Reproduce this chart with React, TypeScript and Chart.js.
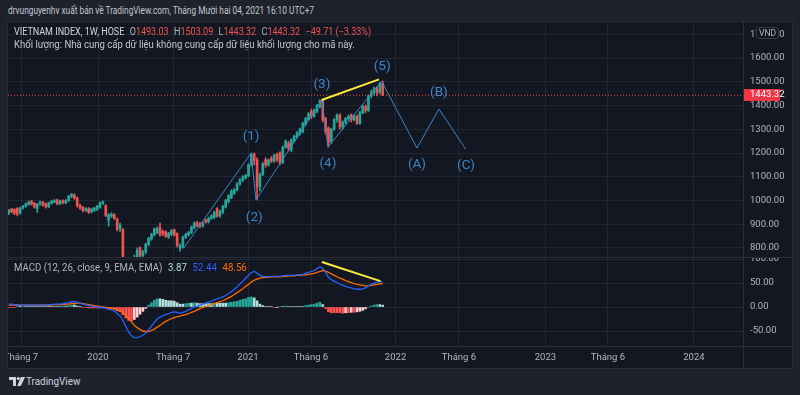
import React, { useEffect, useRef } from 'react';
import { Chart, registerables } from 'chart.js';

Chart.register(...registerables);

// ---- Weekly candles (index 0 = week of 27 May 2019 ... 131 = week of 29 Nov 2021)
const opens = [
  948, 964, 962, 966, 946, 968, 976, 983, 997, 988,
  966, 984, 992, 986, 974, 988, 993, 1002, 986, 999,
  990, 1000, 1016, 1023, 1012, 980, 970, 958, 966, 952,
  958, 962, 972, 988, 978, 918, 935, 940, 922, 880,
  878, 745, 712, 670, 700, 760, 800, 768, 785, 815,
  838, 855, 865, 885, 870, 868, 845, 858, 876, 860,
  800, 804, 845, 855, 865, 885, 905, 902, 893, 918,
  910, 925, 928, 966, 935, 950, 972, 995, 1012, 1030,
  1044, 1070, 1086, 1095, 1105, 1150, 1195, 1170, 1060, 1110,
  1172, 1150, 1178, 1168, 1195, 1200, 1160, 1225, 1240, 1215,
  1250, 1268, 1280, 1290, 1320, 1340, 1375, 1355, 1375, 1395,
  1420, 1345, 1305, 1250, 1300, 1340, 1360, 1310, 1330, 1345,
  1360, 1340, 1355, 1325, 1370, 1395, 1380, 1440, 1455, 1470,
  1455, 1493.03,
];
const highs = [
  963, 968, 966, 970, 972, 980, 990, 998, 1000, 992,
  988, 998, 996, 990, 993, 1000, 1004, 1006, 1002, 1003,
  1004, 1022, 1030, 1028, 1015, 985, 975, 970, 970, 968,
  972, 980, 994, 998, 982, 945, 948, 945, 926, 905,
  882, 755, 725, 700, 770, 800, 805, 790, 820, 845,
  862, 884, 888, 905, 875, 872, 866, 878, 880, 864,
  818, 850, 862, 870, 892, 910, 912, 908, 910, 922,
  930, 940, 955, 970, 960, 980, 1005, 1025, 1045, 1050,
  1075, 1092, 1105, 1110, 1155, 1200, 1200, 1180, 1115, 1160,
  1180, 1175, 1185, 1195, 1200, 1205, 1230, 1255, 1250, 1260,
  1275, 1290, 1305, 1330, 1350, 1370, 1385, 1385, 1405, 1425,
  1425, 1350, 1310, 1305, 1345, 1365, 1365, 1335, 1350, 1360,
  1365, 1360, 1360, 1375, 1400, 1402, 1445, 1465, 1478, 1480,
  1498, 1503.09,
];
const lows = [
  940, 948, 940, 935, 942, 964, 972, 980, 980, 968,
  950, 980, 976, 968, 970, 984, 990, 982, 982, 987,
  986, 996, 1012, 1005, 972, 962, 952, 954, 945, 948,
  954, 958, 968, 984, 932, 893, 928, 920, 872, 870,
  742, 700, 660, 650, 690, 750, 760, 758, 775, 810,
  832, 850, 860, 850, 852, 845, 840, 852, 850, 805,
  787, 800, 840, 850, 860, 880, 890, 886, 888, 905,
  905, 920, 924, 930, 930, 945, 968, 990, 1008, 1025,
  1040, 1065, 1080, 1090, 1100, 1145, 1150, 1002, 1040, 1105,
  1140, 1145, 1160, 1160, 1165, 1150, 1155, 1220, 1210, 1205,
  1245, 1262, 1275, 1285, 1315, 1335, 1345, 1350, 1370, 1390,
  1330, 1280, 1225, 1240, 1295, 1330, 1300, 1300, 1322, 1338,
  1330, 1335, 1320, 1320, 1365, 1370, 1375, 1432, 1445, 1440,
  1450, 1443.32,
];
const closes = [
  960, 952, 946, 946, 968, 976, 987, 994, 985, 973,
  985, 994, 980, 974, 990, 996, 1000, 986, 998, 991,
  1000, 1018, 1026, 1010, 978, 968, 958, 966, 950, 964,
  968, 976, 990, 994, 938, 940, 942, 925, 880, 897,
  748, 712, 670, 690, 760, 790, 768, 785, 815, 840,
  857, 880, 882, 855, 862, 850, 862, 874, 855, 812,
  812, 845, 858, 866, 888, 905, 895, 893, 905, 910,
  925, 935, 950, 935, 955, 975, 1000, 1020, 1040, 1045,
  1070, 1088, 1100, 1105, 1150, 1192, 1170, 1057, 1110, 1155,
  1150, 1170, 1165, 1190, 1175, 1160, 1225, 1250, 1220, 1255,
  1270, 1285, 1300, 1325, 1345, 1365, 1355, 1380, 1400, 1420,
  1340, 1290, 1245, 1300, 1340, 1360, 1310, 1330, 1345, 1355,
  1340, 1355, 1325, 1370, 1395, 1380, 1440, 1455, 1470, 1455,
  1493.03, 1443.32,
];

// ---- MACD (12, 26, close, 9)
const macdLine = [
  6, 6, 5, 5, 4, 4, 4, 4, 4, 4,
  4, 4, 4, 4, 5, 5, 6, 6, 6, 7,
  8, 9, 11, 11, 10, 8, 6, 5, 3, 2,
  1, 0, -1, -1, -3, -5, -6, -8, -14, -18,
  -28, -40, -52, -60, -64, -64, -62, -59, -54, -47,
  -40, -32, -25, -21, -18, -16, -14, -11, -10, -11,
  -13, -11, -9, -6, -3, 0, 2, 4, 6, 8,
  10, 12, 15, 17, 19, 21, 24, 28, 32, 37,
  42, 48, 54, 60, 66, 72, 74, 71, 66, 64,
  63, 63, 64, 64, 64, 64, 65, 66, 66, 66,
  66, 67, 67, 68, 70, 72, 74, 76, 80, 84,
  81, 72, 62, 57, 54, 51, 48, 45, 43, 41,
  40, 38, 37, 37, 38, 40, 44, 47, 50, 52,
  53, 52.44,
];
const signalLine = [
  4, 4, 4, 4, 4, 4, 4, 4, 4, 4,
  4, 4, 4, 4, 4, 4, 5, 5, 5, 5,
  6, 6, 7, 7, 8, 8, 7, 6, 5, 4,
  3, 2, 1, 0, -1, -2, -3, -4, -6, -8,
  -12, -17, -24, -31, -38, -43, -47, -50, -51, -51,
  -49, -46, -42, -38, -34, -30, -27, -24, -22, -20,
  -19, -17, -16, -14, -11, -9, -6, -3, -1, 1,
  3, 5, 7, 9, 11, 13, 16, 19, 22, 26,
  30, 34, 38, 43, 47, 52, 56, 58, 60, 61,
  62, 62, 63, 63, 63, 63, 64, 64, 65, 65,
  65, 66, 66, 67, 67, 68, 69, 70, 72, 74,
  76, 75, 72, 69, 66, 63, 60, 58, 55, 53,
  51, 49, 47, 46, 45, 44, 44, 45, 46, 47,
  48, 48.56,
];
const histogram = [
  -1, -1, -1, 1, 0.5, 1, 1, 1, 1, 1,
  1, 1, 1, 1, 1, 1, 1, 1, 1, 2,
  2, 3, 4, 4, 2, 0.5, -1, -1, -2, -2,
  -2, -2, -2, -2, -2, -3, -3, -4, -8, -10,
  -16, -23, -28, -29, -26, -21, -15, -9, -3, 4,
  9, 14, 17, 17, 16, 14, 13, 13, 12, 9,
  6, 6, 7, 8, 8, 9, 8, 7, 7, 7,
  7, 7, 8, 8, 8, 8, 8, 9, 10, 11,
  12, 14, 16, 17, 20, 21, 19, 13, 6, 3,
  1, 1, 1, -1, -0.5, 1, 1, 2, 1, 1,
  1, 1, 1, 1, 3, 4, 5, 6, 8, 10,
  5, -3, -10, -12, -12, -12, -12, -13, -12, -12,
  -11, -11, -10, -9, -7, -4, 0, 2, 4, 5,
  5, 3.87,
];

// ---- Axis ticks (x in candle-index units)
const xTickPositions = [4.31, 31.28, 57.57, 83.82, 105.9, 135.5, 157.7, 188.0, 209.9, 240.0];
const xTickLabels = ['Tháng 7', '2020', 'Tháng 7', '2021', 'Tháng 6', '2022', 'Tháng 6', '2023', 'Tháng 6', '2024'];
const priceTicks = [800, 900, 1000, 1100, 1200, 1300, 1400, 1500, 1600, 1700];
const macdTicks = [-50, 0, 50, 100];

// ---- Drawings (Elliott waves and trend lines)
const waveX = [61.2, 84.9, 86.6, 109.7, 111.8, 130.6, 143.0, 150.7, 160.0];
const waveY = [798, 1200, 1002, 1423, 1225, 1503, 1221, 1385, 1217];
const waveLabelText = ['(1)', '(2)', '(3)', '(4)', '(5)', '(A)', '(B)', '(C)'];
const waveLabelX = [84.9, 86.0, 109.7, 111.8, 130.8, 143.0, 150.7, 160.2];
const waveLabelY = [1267, 926, 1486, 1154, 1562, 1149, 1453, 1145];
const trendPriceX = [109.6, 129.7];
const trendPriceY = [1423, 1510];
const trendMacdX = [109.7, 130.2];
const trendMacdY = [93.75, 54];

// ---- layout / style constants
const FONT = 'Roboto, "Noto Sans", sans-serif';
const BG = '#131722';
const OUTER = '#1e222d';
const GRID = '#222631';
const BORDER = '#2a2e39';
const TEXT = '#b2b5be';
const UP = '#26a69a';
const DOWN = '#ef5350';
const WAVE = '#3d85c6';
const X_MIN = -0.245;
const X_MAX = 257.2;
const P_MIN = 762.1;
const P_MAX = 1751.6;
const M_MIN = -81.25;
const M_MAX = 104.2;

const last = closes.length - 1;
const lastClose = closes[last];
const change = closes[last] - closes[last - 1];
const changePct = (change / closes[last - 1]) * 100;
const fmtSigned = (v: number) => (v < 0 ? '−' : '+') + Math.abs(v).toFixed(2);

export default function App() {
  const topRef = useRef<HTMLCanvasElement>(null);
  const botRef = useRef<HTMLCanvasElement>(null);

  useEffect(() => {
    Chart.defaults.font.family = FONT;
    const candleColors = closes.map((c, i) => (c >= opens[i] ? UP : DOWN));
    const histColors = histogram.map((h, k) => {
      const prev = k > 0 ? histogram[k - 1] : h;
      if (h >= 0) return prev < h ? '#26a69a' : '#b2dfdb';
      return prev < h ? '#ffcdd2' : '#ff5252';
    });

    const xCommon = {
      type: 'linear' as const,
      min: X_MIN,
      max: X_MAX,
      offset: false,
      afterBuildTicks: (s: any) => {
        s.ticks = xTickPositions.map((v) => ({ value: v }));
      },
    };

    const topOverlay = {
      id: 'topOverlay',
      afterDraw(chart: any) {
        const { ctx } = chart;
        const xs = chart.scales.x;
        const ys = chart.scales.y;
        ctx.save();
        ctx.font = `13.5px ${FONT}`;
        ctx.fillStyle = WAVE;
        ctx.textAlign = 'center';
        ctx.textBaseline = 'middle';
        waveLabelText.forEach((t, k) => {
          ctx.fillText(t, xs.getPixelForValue(waveLabelX[k]), ys.getPixelForValue(waveLabelY[k]));
        });
        const py = ys.getPixelForValue(lastClose);
        ctx.fillStyle = '#f23645';
        ctx.fillRect(ys.left, Math.round(py) - 6, 37, 12);
        ctx.fillStyle = '#ffffff';
        ctx.font = `9.5px ${FONT}`;
        ctx.textAlign = 'left';
        ctx.fillText(lastClose.toFixed(2), ys.left + 7, Math.round(py));
        ctx.restore();
      },
    };

    const top = new Chart(topRef.current as HTMLCanvasElement, {
      type: 'line',
      data: {
        datasets: [
          {
            type: 'line',
            data: trendPriceX.map((x, k) => ({ x, y: trendPriceY[k] })),
            borderColor: '#ffeb3b',
            borderWidth: 2,
            pointRadius: 0,
            order: 0,
          } as any,
          {
            type: 'line',
            data: waveX.map((x, k) => ({ x, y: waveY[k] })),
            borderColor: WAVE,
            borderWidth: 1,
            pointRadius: 0,
            order: 1,
          } as any,
          {
            type: 'line',
            data: [
              { x: X_MIN, y: lastClose },
              { x: X_MAX, y: lastClose },
            ],
            borderColor: DOWN,
            borderWidth: 1,
            borderDash: [1, 2],
            pointRadius: 0,
            order: 2,
          } as any,
          {
            type: 'bar',
            data: closes.map((c, i) => ({ x: i, y: [opens[i], c] })),
            backgroundColor: candleColors,
            barThickness: 2,
            minBarLength: 1,
            grouped: false,
            order: 3,
          } as any,
          {
            type: 'bar',
            data: closes.map((c, i) => ({ x: i, y: [lows[i], highs[i]] })),
            backgroundColor: candleColors,
            barThickness: 1,
            grouped: false,
            order: 4,
          } as any,
        ],
      },
      options: {
        responsive: false,
        animation: false,
        devicePixelRatio: 1,
        layout: { padding: 0 },
        plugins: { legend: { display: false }, tooltip: { enabled: false } },
        scales: {
          x: {
            ...xCommon,
            afterFit: (s: any) => {
              s.height = 0;
              s.paddingLeft = 0;
              s.paddingRight = 0;
            },
            ticks: { display: false },
            grid: { color: GRID, drawTicks: false, offset: false },
            border: { display: false },
          },
          y: {
            type: 'linear',
            position: 'right',
            min: P_MIN,
            max: P_MAX,
            afterBuildTicks: (s: any) => {
              s.ticks = priceTicks.map((v) => ({ value: v }));
            },
            afterFit: (s: any) => {
              s.width = 49;
              s.paddingTop = 0;
              s.paddingBottom = 0;
            },
            ticks: {
              color: TEXT,
              font: { size: 9.5, family: FONT },
              padding: 7,
              callback: (v: any) => Number(v).toFixed(2),
            },
            grid: { color: GRID, drawTicks: false },
            border: { display: false },
          },
        },
      } as any,
      plugins: [topOverlay],
    });

    const bot = new Chart(botRef.current as HTMLCanvasElement, {
      type: 'line',
      data: {
        datasets: [
          {
            type: 'line',
            data: trendMacdX.map((x, k) => ({ x, y: trendMacdY[k] })),
            borderColor: '#ffeb3b',
            borderWidth: 2,
            pointRadius: 0,
            order: 0,
          } as any,
          {
            type: 'line',
            data: macdLine.map((v, i) => ({ x: i, y: v })),
            borderColor: '#2962ff',
            borderWidth: 1.3,
            pointRadius: 0,
            order: 1,
          } as any,
          {
            type: 'line',
            data: signalLine.map((v, i) => ({ x: i, y: v })),
            borderColor: '#ff6d00',
            borderWidth: 1.3,
            pointRadius: 0,
            order: 2,
          } as any,
          {
            type: 'bar',
            data: histogram.map((v, i) => ({ x: i, y: v })),
            backgroundColor: histColors,
            barThickness: 2,
            grouped: false,
            order: 3,
          } as any,
        ],
      },
      options: {
        responsive: false,
        animation: false,
        devicePixelRatio: 1,
        layout: { padding: 0 },
        plugins: { legend: { display: false }, tooltip: { enabled: false } },
        scales: {
          x: {
            ...xCommon,
            afterFit: (s: any) => {
              s.height = 21;
              s.paddingLeft = 0;
              s.paddingRight = 0;
            },
            ticks: {
              display: true,
              color: TEXT,
              font: { size: 9.5, family: FONT },
              padding: 6,
              maxRotation: 0,
              minRotation: 0,
              autoSkip: false,
              callback: (_v: any, idx: number) => xTickLabels[idx] ?? '',
            },
            grid: { color: GRID, drawTicks: false, offset: false },
            border: { display: false },
          },
          y: {
            type: 'linear',
            position: 'right',
            min: M_MIN,
            max: M_MAX,
            afterBuildTicks: (s: any) => {
              s.ticks = macdTicks.map((v) => ({ value: v }));
            },
            afterFit: (s: any) => {
              s.width = 49;
              s.paddingTop = 0;
              s.paddingBottom = 0;
            },
            ticks: {
              color: TEXT,
              font: { size: 9.5, family: FONT },
              padding: 7,
              callback: (v: any) => Number(v).toFixed(2),
            },
            grid: { color: GRID, drawTicks: false },
            border: { display: false },
          },
        },
      } as any,
    });

    return () => {
      top.destroy();
      bot.destroy();
    };
  }, []);

  const red = { color: DOWN };
  const txt: React.CSSProperties = {
    position: 'absolute',
    whiteSpace: 'pre',
    lineHeight: '12px',
    fontFamily: FONT,
    transformOrigin: 'left center',
  };

  return (
    <div style={{ position: 'fixed', left: 0, top: 0, width: 800, height: 395, background: OUTER, overflow: 'hidden', fontFamily: FONT }}>
      <div style={{ ...txt, left: 8, top: 5, fontSize: 10, color: '#c3c6ce', transform: 'scaleX(0.83)' }}>
        drvunguyenhv xuất bản về TradingView.com, Tháng Mười hai 04, 2021 16:10 UTC+7
      </div>
      <div style={{ position: 'absolute', left: 7, top: 21, width: 786, height: 348, boxSizing: 'border-box', border: `1px solid ${BORDER}`, background: BG }} />
      <canvas ref={topRef} width={784} height={235} style={{ position: 'absolute', left: 8, top: 22, width: 784, height: 235 }} />
      <canvas ref={botRef} width={784} height={110} style={{ position: 'absolute', left: 8, top: 257, width: 784, height: 110 }} />
      <div style={{ position: 'absolute', left: 8, top: 257, width: 784, height: 1, background: BORDER }} />
      <div style={{ position: 'absolute', left: 8, top: 346, width: 784, height: 1, background: BORDER }} />
      <div style={{ position: 'absolute', left: 743, top: 22, width: 1, height: 346, background: BORDER }} />

      <div style={{ ...txt, left: 14, top: 26, fontSize: 10, color: TEXT, transform: 'scaleX(0.9)' }}>
        <span style={{ color: '#d1d4dc' }}>VIETNAM INDEX, 1W, HOSE</span>
        <span style={{ marginLeft: 6 }}>O<span style={red}>{opens[last].toFixed(2)}</span></span>
        <span style={{ marginLeft: 6 }}>H<span style={red}>{highs[last].toFixed(2)}</span></span>
        <span style={{ marginLeft: 6 }}>L<span style={red}>{lows[last].toFixed(2)}</span></span>
        <span style={{ marginLeft: 6 }}>C<span style={red}>{closes[last].toFixed(2)}</span></span>
        <span style={{ marginLeft: 6, ...red }}>{fmtSigned(change)} ({fmtSigned(changePct)}%)</span>
      </div>
      <div style={{ ...txt, left: 14, top: 39, fontSize: 10, color: '#c3c6ce', transform: 'scaleX(0.955)' }}>
        Khối lượng: Nhà cung cấp dữ liệu không cung cấp dữ liệu khối lượng cho mã này.
      </div>

      <div style={{ ...txt, left: 14, top: 262, fontSize: 10, color: TEXT, transform: 'scaleX(0.963)' }}>
        <span>MACD (12, 26, close, 9, EMA, EMA)</span>
        <span style={{ marginLeft: 6, color: '#b2dfdb' }}>{histogram[last].toFixed(2)}</span>
        <span style={{ marginLeft: 6, color: '#2962ff' }}>{macdLine[last].toFixed(2)}</span>
        <span style={{ marginLeft: 6, color: '#ff6d00' }}>{signalLine[last].toFixed(2)}</span>
      </div>

      <div style={{ position: 'absolute', left: 756, top: 27, width: 23, height: 12, boxSizing: 'border-box', border: '1px solid #363a45', borderRadius: 3, background: BG, color: TEXT, fontSize: 8.5, lineHeight: '10px', textAlign: 'center', fontFamily: FONT }}>
        VND
      </div>

      <svg style={{ position: 'absolute', left: 9, top: 377 }} width={16} height={9} viewBox="0 0 16 9">
        <rect x={0} y={0} width={7} height={3} fill="#d1d4dc" />
        <rect x={4} y={0} width={3} height={9} fill="#d1d4dc" />
        <circle cx={9.3} cy={1.6} r={1.6} fill="#d1d4dc" />
        <polygon points="12,0 16,0 11.8,9 8.2,9" fill="#d1d4dc" />
      </svg>
      <div style={{ ...txt, left: 26, top: 375, fontSize: 11.5, color: '#d1d4dc', transform: 'scaleX(0.86)' }}>TradingView</div>
    </div>
  );
}
